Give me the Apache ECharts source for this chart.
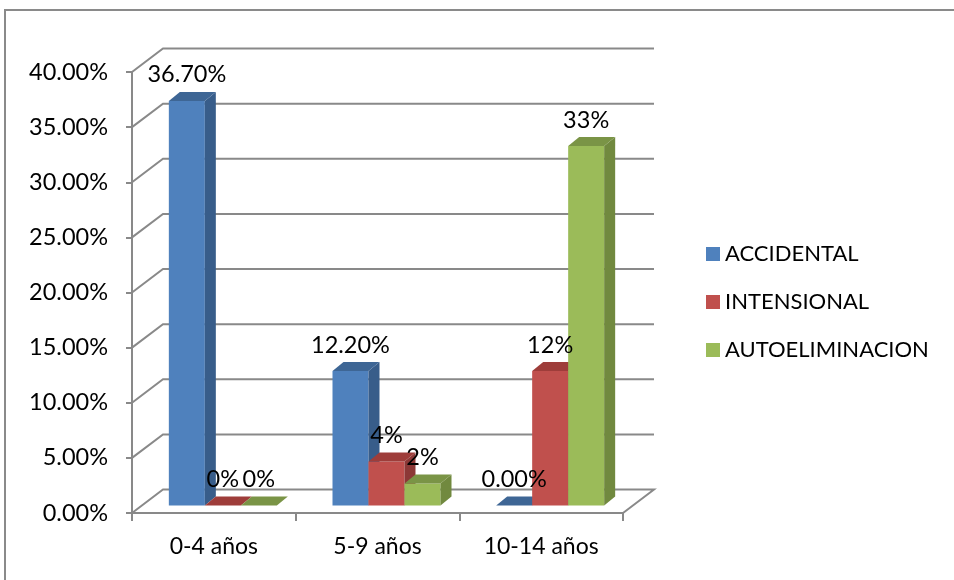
<!DOCTYPE html>
<html>
<head>
<meta charset="utf-8">
<script src="https://cdn.jsdelivr.net/npm/echarts@6/dist/echarts.min.js"></script>
<style>
  html, body { margin: 0; padding: 0; background: #fff; }
  #chart { width: 954px; height: 580px; }
</style>
</head>
<body>
<div id="chart"></div>
<script>
const categories = ["0-4 años", "5-9 años", "10-14 años"]
const accidental = [36.7, 12.2, 0]
const intensional = [0, 4, 12.2]
const autoeliminacion = [0, 2, 32.6]
const yTicks = [0, 5, 10, 15, 20, 25, 30, 35, 40]

const FONT = "Lato, 'Liberation Sans', sans-serif"
const GRID_COLOR = "#898989"
// wall depth and bar depth offsets (pseudo 3D)
const WALL = [31, -23.5]
const MID = [9, -7.5]
const DEPTH = [11, -9]
const BAR_W = 36

const chart = echarts.init(document.getElementById("chart"))

function barSeries(name, values, idx, colors, decimals) {
  const data = values.map((v, i) => [i, v])
  const place = (api) => {
    const cat = api.value(0)
    const v = api.value(1)
    const base = api.coord([cat, 0])
    const top = api.coord([cat, v])
    const x = base[0] - 1.5 * BAR_W + MID[0] + idx * BAR_W
    const yb = base[1] + MID[1]
    const yt = yb - (base[1] - top[1])
    return { x, yb, yt, v }
  }
  const bars = {
    name,
    type: "custom",
    z: 2,
    itemStyle: { color: colors[0] },
    data,
    encode: { x: 0, y: 1 },
    renderItem: (params, api) => {
      const { x, yb, yt } = place(api)
      const children = []
      if (yb - yt > 0.5) {
        children.push({
          type: "rect",
          shape: { x, y: yt, width: BAR_W, height: yb - yt },
          style: { fill: colors[0] },
        })
        children.push({
          type: "polygon",
          shape: {
            points: [
              [x + BAR_W, yt],
              [x + BAR_W + DEPTH[0], yt + DEPTH[1]],
              [x + BAR_W + DEPTH[0], yb + DEPTH[1]],
              [x + BAR_W, yb],
            ],
          },
          style: { fill: colors[1] },
        })
      }
      children.push({
        type: "polygon",
        shape: {
          points: [
            [x, yt],
            [x + DEPTH[0], yt + DEPTH[1]],
            [x + BAR_W + DEPTH[0], yt + DEPTH[1]],
            [x + BAR_W, yt],
          ],
        },
        style: { fill: colors[2] },
      })
      return { type: "group", children }
    },
  }
  const labels = {
    name,
    type: "custom",
    z: 5,
    silent: true,
    itemStyle: { color: colors[0] },
    data,
    encode: { x: 0, y: 1 },
    renderItem: (params, api) => {
      const { x, yt, v } = place(api)
      return {
        type: "text",
        style: {
          x: x + BAR_W / 2,
          y: yt - 26,
          text: v.toFixed(decimals) + "%",
          fill: "#000",
          font: "23.5px " + FONT,
          align: "center",
          verticalAlign: "middle",
        },
      }
    },
  }
  return [bars, labels]
}

const wallSeries = {
  type: "custom",
  z: 1,
  silent: true,
  data: yTicks.map((t) => [0, t]),
  encode: { x: 0, y: 1 },
  renderItem: (params, api) => {
    const cs = params.coordSys
    const y = api.coord([0, api.value(1)])[1]
    const x0 = cs.x
    const pts = [
      [x0, y],
      [x0 + WALL[0], y + WALL[1]],
      [x0 + cs.width + WALL[0], y + WALL[1]],
    ]
    if (api.value(1) === 0) pts.push([x0 + cs.width, y])
    return {
      type: "polyline",
      shape: { points: pts },
      style: { stroke: GRID_COLOR, lineWidth: 2, fill: null },
    }
  },
}

chart.setOption({
  animation: false,
  textStyle: { fontFamily: FONT },
  graphic: [
    {
      type: "rect",
      shape: { x: 5, y: 10, width: 1000, height: 620 },
      style: { fill: null, stroke: "#8a8a8a", lineWidth: 2 },
      silent: true,
    },
  ],
  grid: { left: 132, top: 72, width: 491, height: 441 },
  legend: {
    orient: "vertical",
    left: 701,
    top: 238,
    icon: "rect",
    itemWidth: 14,
    itemHeight: 14,
    itemGap: 26,
    data: ["ACCIDENTAL", "INTENSIONAL", "AUTOELIMINACION"],
    textStyle: { fontSize: 22, color: "#000", fontFamily: FONT, lineHeight: 22 },
  },
  xAxis: {
    type: "category",
    data: categories,
    axisLine: { lineStyle: { color: GRID_COLOR, width: 2 } },
    axisTick: { show: true, length: 8, lineStyle: { color: GRID_COLOR, width: 2 } },
    axisLabel: { color: "#000", fontSize: 23, margin: 22 },
  },
  yAxis: {
    type: "value",
    min: 0,
    max: 40,
    interval: 5,
    axisLine: { show: true, lineStyle: { color: GRID_COLOR, width: 2 } },
    axisTick: { show: true, length: 6, lineStyle: { color: GRID_COLOR, width: 2 } },
    axisLabel: {
      color: "#000",
      fontSize: 23.5,
      margin: 24,
      formatter: (v) => v.toFixed(2) + "%",
    },
    splitLine: { show: false },
  },
  series: [
    wallSeries,
    ...barSeries("ACCIDENTAL", accidental, 0, ["#4F81BD", "#385D8A", "#3E6695"], 2),
    ...barSeries("INTENSIONAL", intensional, 1, ["#C0504D", "#8C3836", "#9E3D3A"], 0),
    ...barSeries("AUTOELIMINACION", autoeliminacion, 2, ["#9BBB59", "#71893F", "#7A9446"], 0),
  ],
})
</script>
</body>
</html>
